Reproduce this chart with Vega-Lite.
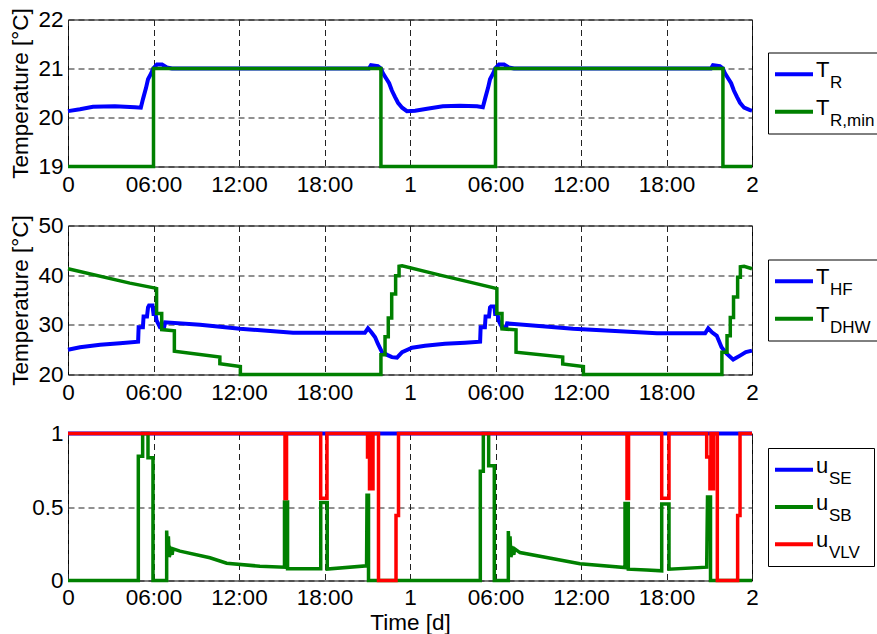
{
 "$schema": "https://vega.github.io/schema/vega-lite/v6.json",
 "padding": {"left": 3, "top": 6.5, "right": 0, "bottom": 0},
 "background": "white",
 "config": {
  "view": {"stroke": "#000000", "strokeWidth": 1},
  "font": "Liberation Sans",
  "axis": {"labelFont": "Liberation Sans", "labelFontSize": 22.5, "labelColor": "#000", "titleFont": "Liberation Sans", "titleFontSize": 22.5, "titleFontWeight": "normal", "titleColor": "#000", "grid": true, "gridColor": "#222", "gridDash": [6, 4], "gridWidth": 1, "ticks": false, "domain": false, "labelFlush": false, "labelOverlap": false, "titleLimit": 600},
  "axisX": {"labelPadding": 7, "titlePadding": 0},
  "axisY": {"labelPadding": 5, "titlePadding": 5}
 },
 "resolve": {"scale": {"color": "independent"}},
 "datasets": {
  "p1": [
   {"s":"TR","t":0,"v":20.13},{"s":"TR","t":0.035,"v":20.17},{"s":"TR","t":0.073,"v":20.22},{"s":"TR","t":0.137,"v":20.23},{"s":"TR","t":0.196,"v":20.21},{"s":"TR","t":0.213,"v":20.2},{"s":"TR","t":0.219,"v":20.37},{"s":"TR","t":0.228,"v":20.6},{"s":"TR","t":0.234,"v":20.78},{"s":"TR","t":0.243,"v":20.9},{"s":"TR","t":0.249,"v":21.0},{"s":"TR","t":0.26,"v":21.08},{"s":"TR","t":0.275,"v":21.08},{"s":"TR","t":0.289,"v":21.02},{"s":"TR","t":0.304,"v":21.0},{"s":"TR","t":0.88,"v":21.0},{"s":"TR","t":0.886,"v":21.07},{"s":"TR","t":0.906,"v":21.05},{"s":"TR","t":0.915,"v":21.0},{"s":"TR","t":0.921,"v":20.9},{"s":"TR","t":0.93,"v":20.8},{"s":"TR","t":0.939,"v":20.7},{"s":"TR","t":0.947,"v":20.55},{"s":"TR","t":0.956,"v":20.42},{"s":"TR","t":0.965,"v":20.3},{"s":"TR","t":0.977,"v":20.2},{"s":"TR","t":0.991,"v":20.13},{"s":"TR","t":1.015,"v":20.14},{"s":"TR","t":1.05,"v":20.18},{"s":"TR","t":1.096,"v":20.23},{"s":"TR","t":1.146,"v":20.24},{"s":"TR","t":1.196,"v":20.23},{"s":"TR","t":1.213,"v":20.21},{"s":"TR","t":1.219,"v":20.37},{"s":"TR","t":1.228,"v":20.6},{"s":"TR","t":1.234,"v":20.78},{"s":"TR","t":1.243,"v":20.9},{"s":"TR","t":1.249,"v":21.0},{"s":"TR","t":1.26,"v":21.08},{"s":"TR","t":1.275,"v":21.08},{"s":"TR","t":1.289,"v":21.02},{"s":"TR","t":1.304,"v":21.0},{"s":"TR","t":1.88,"v":21.0},{"s":"TR","t":1.886,"v":21.07},{"s":"TR","t":1.906,"v":21.05},{"s":"TR","t":1.915,"v":21.0},{"s":"TR","t":1.921,"v":20.9},{"s":"TR","t":1.93,"v":20.8},{"s":"TR","t":1.939,"v":20.7},{"s":"TR","t":1.947,"v":20.55},{"s":"TR","t":1.956,"v":20.42},{"s":"TR","t":1.965,"v":20.3},{"s":"TR","t":1.977,"v":20.2},{"s":"TR","t":1.994,"v":20.15},{"s":"TR","t":2.0,"v":20.14},
   {"s":"TRmin","t":0,"v":19},{"s":"TRmin","t":0.25,"v":19},{"s":"TRmin","t":0.25,"v":21},{"s":"TRmin","t":0.915,"v":21},{"s":"TRmin","t":0.915,"v":19},{"s":"TRmin","t":1.25,"v":19},{"s":"TRmin","t":1.25,"v":21},{"s":"TRmin","t":1.915,"v":21},{"s":"TRmin","t":1.915,"v":19},{"s":"TRmin","t":2,"v":19}
  ],
  "p2": [
   {"s":"THF","t":0,"v":25.0},{"s":"THF","t":0.035,"v":25.5},{"s":"THF","t":0.094,"v":26.0},{"s":"THF","t":0.152,"v":26.3},{"s":"THF","t":0.205,"v":26.6},{"s":"THF","t":0.2065,"v":29.5},{"s":"THF","t":0.219,"v":29.5},{"s":"THF","t":0.221,"v":31.7},{"s":"THF","t":0.231,"v":31.7},{"s":"THF","t":0.234,"v":33.5},{"s":"THF","t":0.237,"v":33.9},{"s":"THF","t":0.247,"v":33.9},{"s":"THF","t":0.25,"v":32.2},{"s":"THF","t":0.256,"v":32.2},{"s":"THF","t":0.259,"v":30.9},{"s":"THF","t":0.269,"v":29.5},{"s":"THF","t":0.281,"v":29.5},{"s":"THF","t":0.284,"v":30.5},{"s":"THF","t":0.386,"v":30.0},{"s":"THF","t":0.503,"v":29.2},{"s":"THF","t":0.658,"v":28.4},{"s":"THF","t":0.868,"v":28.4},{"s":"THF","t":0.877,"v":29.3},{"s":"THF","t":0.887,"v":28.5},{"s":"THF","t":0.898,"v":27.5},{"s":"THF","t":0.906,"v":26.2},{"s":"THF","t":0.918,"v":24.5},{"s":"THF","t":0.933,"v":23.95},{"s":"THF","t":0.947,"v":23.5},{"s":"THF","t":0.962,"v":23.4},{"s":"THF","t":0.977,"v":24.5},{"s":"THF","t":1.006,"v":25.4},{"s":"THF","t":1.044,"v":25.8},{"s":"THF","t":1.102,"v":26.2},{"s":"THF","t":1.161,"v":26.4},{"s":"THF","t":1.205,"v":26.6},{"s":"THF","t":1.2065,"v":29.5},{"s":"THF","t":1.219,"v":29.5},{"s":"THF","t":1.221,"v":31.7},{"s":"THF","t":1.231,"v":31.7},{"s":"THF","t":1.234,"v":33.5},{"s":"THF","t":1.237,"v":33.7},{"s":"THF","t":1.247,"v":33.7},{"s":"THF","t":1.249,"v":32.2},{"s":"THF","t":1.256,"v":32.2},{"s":"THF","t":1.259,"v":30.9},{"s":"THF","t":1.269,"v":29.5},{"s":"THF","t":1.281,"v":29.5},{"s":"THF","t":1.284,"v":30.3},{"s":"THF","t":1.477,"v":29.2},{"s":"THF","t":1.722,"v":28.3},{"s":"THF","t":1.863,"v":28.3},{"s":"THF","t":1.872,"v":29.3},{"s":"THF","t":1.883,"v":28.5},{"s":"THF","t":1.897,"v":27.8},{"s":"THF","t":1.911,"v":25.5},{"s":"THF","t":1.926,"v":24.2},{"s":"THF","t":1.945,"v":23.0},{"s":"THF","t":1.965,"v":23.8},{"s":"THF","t":1.982,"v":24.5},{"s":"THF","t":2.0,"v":24.8},
   {"s":"TDHW","t":0,"v":41.3},{"s":"TDHW","t":0.181,"v":38.4},{"s":"TDHW","t":0.255,"v":37.4},{"s":"TDHW","t":0.259,"v":37.3},{"s":"TDHW","t":0.259,"v":32.3},{"s":"TDHW","t":0.274,"v":32.3},{"s":"TDHW","t":0.274,"v":29.05},{"s":"TDHW","t":0.311,"v":28.8},{"s":"TDHW","t":0.311,"v":24.7},{"s":"TDHW","t":0.444,"v":23.5},{"s":"TDHW","t":0.444,"v":22.15},{"s":"TDHW","t":0.504,"v":21.6},{"s":"TDHW","t":0.504,"v":20.0},{"s":"TDHW","t":0.915,"v":20.0},{"s":"TDHW","t":0.915,"v":24.0},{"s":"TDHW","t":0.927,"v":24.0},{"s":"TDHW","t":0.927,"v":27.6},{"s":"TDHW","t":0.9365,"v":27.6},{"s":"TDHW","t":0.9365,"v":31.4},{"s":"TDHW","t":0.9465,"v":31.4},{"s":"TDHW","t":0.9465,"v":36.2},{"s":"TDHW","t":0.958,"v":36.2},{"s":"TDHW","t":0.958,"v":39.9},{"s":"TDHW","t":0.968,"v":39.9},{"s":"TDHW","t":0.968,"v":41.8},{"s":"TDHW","t":0.977,"v":41.9},{"s":"TDHW","t":1.088,"v":40.0},{"s":"TDHW","t":1.175,"v":38.6},{"s":"TDHW","t":1.254,"v":37.3},{"s":"TDHW","t":1.254,"v":32.3},{"s":"TDHW","t":1.269,"v":32.3},{"s":"TDHW","t":1.269,"v":29.2},{"s":"TDHW","t":1.31,"v":29.0},{"s":"TDHW","t":1.31,"v":24.5},{"s":"TDHW","t":1.4465,"v":23.5},{"s":"TDHW","t":1.4465,"v":22.1},{"s":"TDHW","t":1.507,"v":21.6},{"s":"TDHW","t":1.507,"v":20.0},{"s":"TDHW","t":1.912,"v":20.0},{"s":"TDHW","t":1.912,"v":24.5},{"s":"TDHW","t":1.927,"v":24.5},{"s":"TDHW","t":1.927,"v":27.8},{"s":"TDHW","t":1.9365,"v":27.8},{"s":"TDHW","t":1.9365,"v":31.5},{"s":"TDHW","t":1.946,"v":31.5},{"s":"TDHW","t":1.946,"v":35.6},{"s":"TDHW","t":1.958,"v":35.6},{"s":"TDHW","t":1.958,"v":39.6},{"s":"TDHW","t":1.966,"v":39.6},{"s":"TDHW","t":1.966,"v":41.7},{"s":"TDHW","t":1.977,"v":41.8},{"s":"TDHW","t":2.0,"v":41.3}
  ],
  "p3": [
   {"s":"USE","t":0,"v":1},{"s":"USE","t":2,"v":1},
   {"s":"USB","t":0,"v":0},{"s":"USB","t":0.2056,"v":0},{"s":"USB","t":0.2056,"v":0.845},{"s":"USB","t":0.2183,"v":0.845},{"s":"USB","t":0.2183,"v":1},{"s":"USB","t":0.2339,"v":1},{"s":"USB","t":0.2339,"v":0.835},{"s":"USB","t":0.2485,"v":0.835},{"s":"USB","t":0.2485,"v":0},{"s":"USB","t":0.2885,"v":0},{"s":"USB","t":0.2885,"v":0.34},{"s":"USB","t":0.291,"v":0.17},{"s":"USB","t":0.2935,"v":0.3},{"s":"USB","t":0.296,"v":0.16},{"s":"USB","t":0.301,"v":0.2},{"s":"USB","t":0.3045,"v":0.175},{"s":"USB","t":0.307,"v":0.215},{"s":"USB","t":0.3275,"v":0.2},{"s":"USB","t":0.415,"v":0.155},{"s":"USB","t":0.464,"v":0.118},{"s":"USB","t":0.561,"v":0.097},{"s":"USB","t":0.633,"v":0.09},{"s":"USB","t":0.633,"v":0.534},{"s":"USB","t":0.642,"v":0.534},{"s":"USB","t":0.642,"v":0.08},{"s":"USB","t":0.739,"v":0.08},{"s":"USB","t":0.739,"v":0.53},{"s":"USB","t":0.758,"v":0.53},{"s":"USB","t":0.758,"v":0.078},{"s":"USB","t":0.873,"v":0.1},{"s":"USB","t":0.8743,"v":0.58},{"s":"USB","t":0.8787,"v":0.58},{"s":"USB","t":0.8787,"v":0},{"s":"USB","t":1.2056,"v":0},{"s":"USB","t":1.2056,"v":0.743},{"s":"USB","t":1.2144,"v":0.743},{"s":"USB","t":1.2144,"v":1},{"s":"USB","t":1.23,"v":1},{"s":"USB","t":1.23,"v":0.78},{"s":"USB","t":1.2465,"v":0.78},{"s":"USB","t":1.2465,"v":0},{"s":"USB","t":1.2875,"v":0},{"s":"USB","t":1.2875,"v":0.336},{"s":"USB","t":1.29,"v":0.17},{"s":"USB","t":1.2925,"v":0.3},{"s":"USB","t":1.295,"v":0.16},{"s":"USB","t":1.3,"v":0.2},{"s":"USB","t":1.3035,"v":0.175},{"s":"USB","t":1.306,"v":0.215},{"s":"USB","t":1.3216,"v":0.19},{"s":"USB","t":1.4971,"v":0.114},{"s":"USB","t":1.6287,"v":0.088},{"s":"USB","t":1.6287,"v":0.523},{"s":"USB","t":1.6383,"v":0.523},{"s":"USB","t":1.6383,"v":0.077},{"s":"USB","t":1.692,"v":0.072},{"s":"USB","t":1.736,"v":0.066},{"s":"USB","t":1.736,"v":0.52},{"s":"USB","t":1.7573,"v":0.52},{"s":"USB","t":1.7573,"v":0.077},{"s":"USB","t":1.8675,"v":0.091},{"s":"USB","t":1.8699,"v":0.568},{"s":"USB","t":1.8787,"v":0.568},{"s":"USB","t":1.8787,"v":0},{"s":"USB","t":2,"v":0},
   {"s":"UVLV","t":0,"v":1},{"s":"UVLV","t":0.6345,"v":1},{"s":"UVLV","t":0.6345,"v":0.557},{"s":"UVLV","t":0.639,"v":0.557},{"s":"UVLV","t":0.639,"v":1},{"s":"UVLV","t":0.7389,"v":1},{"s":"UVLV","t":0.7389,"v":0.56},{"s":"UVLV","t":0.7573,"v":0.56},{"s":"UVLV","t":0.7573,"v":1},{"s":"UVLV","t":0.8758,"v":1},{"s":"UVLV","t":0.8758,"v":0.84},{"s":"UVLV","t":0.8816,"v":0.84},{"s":"UVLV","t":0.8816,"v":0.625},{"s":"UVLV","t":0.8845,"v":0.625},{"s":"UVLV","t":0.8845,"v":1},{"s":"UVLV","t":0.8874,"v":1},{"s":"UVLV","t":0.8874,"v":0.625},{"s":"UVLV","t":0.8918,"v":0.625},{"s":"UVLV","t":0.8918,"v":1},{"s":"UVLV","t":0.9079,"v":1},{"s":"UVLV","t":0.9079,"v":0},{"s":"UVLV","t":0.9591,"v":0},{"s":"UVLV","t":0.9591,"v":0.443},{"s":"UVLV","t":0.9664,"v":0.443},{"s":"UVLV","t":0.9664,"v":1},{"s":"UVLV","t":1.6345,"v":1},{"s":"UVLV","t":1.6345,"v":0.557},{"s":"UVLV","t":1.639,"v":0.557},{"s":"UVLV","t":1.639,"v":1},{"s":"UVLV","t":1.736,"v":1},{"s":"UVLV","t":1.736,"v":0.56},{"s":"UVLV","t":1.7573,"v":0.56},{"s":"UVLV","t":1.7573,"v":1},{"s":"UVLV","t":1.8675,"v":1},{"s":"UVLV","t":1.8675,"v":0.84},{"s":"UVLV","t":1.877,"v":0.84},{"s":"UVLV","t":1.877,"v":0.625},{"s":"UVLV","t":1.88,"v":0.625},{"s":"UVLV","t":1.88,"v":1},{"s":"UVLV","t":1.883,"v":1},{"s":"UVLV","t":1.883,"v":0.625},{"s":"UVLV","t":1.8875,"v":0.625},{"s":"UVLV","t":1.8875,"v":1},{"s":"UVLV","t":1.8986,"v":1},{"s":"UVLV","t":1.8986,"v":0},{"s":"UVLV","t":1.958,"v":0},{"s":"UVLV","t":1.958,"v":0.443},{"s":"UVLV","t":1.965,"v":0.443},{"s":"UVLV","t":1.965,"v":1},{"s":"UVLV","t":2,"v":1}
  ]
 },
 "vconcat": [
  {
   "hconcat": [
    {
     "width": 684, "height": 147,
     "data": {"name": "p1"},
     "encoding": {
      "x": {"field": "t", "type": "quantitative", "scale": {"domain": [0, 2], "nice": false, "zero": false}, "axis": {"title": null, "values": [0, 0.25, 0.5, 0.75, 1, 1.25, 1.5, 1.75, 2], "labelExpr": "datum.value % 1 == 0 ? format(datum.value, 'd') : (datum.value % 1 == 0.25 ? '06:00' : (datum.value % 1 == 0.5 ? '12:00' : '18:00'))"}},
      "y": {"field": "v", "type": "quantitative", "scale": {"domain": [19, 22], "nice": false, "zero": false}, "axis": {"title": "Temperature [°C]", "values": [19, 20, 21, 22], "format": "d"}},
      "order": {"value": null}
     },
     "layer": [
      {"transform": [{"filter": "datum.s == 'TR'"}], "mark": {"type": "line", "color": "#0000ff", "strokeWidth": 4, "strokeJoin": "miter"}},
      {"transform": [{"filter": "datum.s == 'TRmin'"}], "mark": {"type": "line", "color": "#008000", "strokeWidth": 3.5, "strokeJoin": "miter"}}
     ]
    },
    {
     "width": 130, "height": 81,
     "data": {"values": [{"k": "TR", "m": "T", "sub": "R"}, {"k": "TRmin", "m": "T", "sub": "R,min"}]},
     "encoding": {"y": {"field": "k", "type": "nominal", "scale": {"type": "point", "domain": ["TR", "TRmin"], "padding": 0.58}, "axis": null}},
     "layer": [
      {"mark": {"type": "rule", "strokeWidth": 4}, "encoding": {"x": {"datum": 7, "type": "quantitative", "scale": {"domain": [0, 130], "nice": false, "zero": false}, "axis": null}, "x2": {"datum": 45}, "color": {"field": "k", "type": "nominal", "scale": {"domain": ["TR", "TRmin"], "range": ["#0000ff", "#008000"]}, "legend": null}}},
      {"mark": {"type": "text", "align": "left", "baseline": "alphabetic", "dy": 3, "fontSize": 22, "font": "Liberation Sans", "color": "#000"}, "encoding": {"x": {"datum": 48, "type": "quantitative"}, "text": {"field": "m"}}},
      {"mark": {"type": "text", "align": "left", "baseline": "alphabetic", "dx": 14, "dy": 14, "fontSize": 17, "font": "Liberation Sans", "color": "#000"}, "encoding": {"x": {"datum": 48, "type": "quantitative"}, "text": {"field": "sub"}}}
     ]
    }
   ],
   "spacing": 16, "bounds": "flush", "center": true,
   "resolve": {"scale": {"color": "independent"}}
  },
  {
   "hconcat": [
    {
     "width": 684, "height": 149,
     "data": {"name": "p2"},
     "encoding": {
      "x": {"field": "t", "type": "quantitative", "scale": {"domain": [0, 2], "nice": false, "zero": false}, "axis": {"title": null, "values": [0, 0.25, 0.5, 0.75, 1, 1.25, 1.5, 1.75, 2], "labelExpr": "datum.value % 1 == 0 ? format(datum.value, 'd') : (datum.value % 1 == 0.25 ? '06:00' : (datum.value % 1 == 0.5 ? '12:00' : '18:00'))"}},
      "y": {"field": "v", "type": "quantitative", "scale": {"domain": [20, 50], "nice": false, "zero": false}, "axis": {"title": "Temperature [°C]", "values": [20, 30, 40, 50], "format": "d"}},
      "order": {"value": null}
     },
     "layer": [
      {"transform": [{"filter": "datum.s == 'THF'"}], "mark": {"type": "line", "color": "#0000ff", "strokeWidth": 4, "strokeJoin": "miter"}},
      {"transform": [{"filter": "datum.s == 'TDHW'"}], "mark": {"type": "line", "color": "#008000", "strokeWidth": 3.5, "strokeJoin": "miter"}}
     ]
    },
    {
     "width": 125, "height": 81,
     "data": {"values": [{"k": "THF", "m": "T", "sub": "HF"}, {"k": "TDHW", "m": "T", "sub": "DHW"}]},
     "encoding": {"y": {"field": "k", "type": "nominal", "scale": {"type": "point", "domain": ["THF", "TDHW"], "padding": 0.58}, "axis": null}},
     "layer": [
      {"mark": {"type": "rule", "strokeWidth": 4}, "encoding": {"x": {"datum": 7, "type": "quantitative", "scale": {"domain": [0, 125], "nice": false, "zero": false}, "axis": null}, "x2": {"datum": 45}, "color": {"field": "k", "type": "nominal", "scale": {"domain": ["THF", "TDHW"], "range": ["#0000ff", "#008000"]}, "legend": null}}},
      {"mark": {"type": "text", "align": "left", "baseline": "alphabetic", "dy": 3, "fontSize": 22, "font": "Liberation Sans", "color": "#000"}, "encoding": {"x": {"datum": 48, "type": "quantitative"}, "text": {"field": "m"}}},
      {"mark": {"type": "text", "align": "left", "baseline": "alphabetic", "dx": 14, "dy": 14, "fontSize": 17, "font": "Liberation Sans", "color": "#000"}, "encoding": {"x": {"datum": 48, "type": "quantitative"}, "text": {"field": "sub"}}}
     ]
    }
   ],
   "spacing": 16, "bounds": "flush", "center": true,
   "resolve": {"scale": {"color": "independent"}}
  },
  {
   "hconcat": [
    {
     "width": 684, "height": 147,
     "data": {"name": "p3"},
     "encoding": {
      "x": {"field": "t", "type": "quantitative", "scale": {"domain": [0, 2], "nice": false, "zero": false}, "axis": {"title": "Time [d]", "labelPadding": 6, "titlePadding": 2, "values": [0, 0.25, 0.5, 0.75, 1, 1.25, 1.5, 1.75, 2], "labelExpr": "datum.value % 1 == 0 ? format(datum.value, 'd') : (datum.value % 1 == 0.25 ? '06:00' : (datum.value % 1 == 0.5 ? '12:00' : '18:00'))"}},
      "y": {"field": "v", "type": "quantitative", "scale": {"domain": [0, 1], "nice": false, "zero": false}, "axis": {"title": " ", "values": [0, 0.5, 1], "labelExpr": "'' + datum.value"}},
      "order": {"value": null}
     },
     "layer": [
      {"transform": [{"filter": "datum.s == 'USE'"}], "mark": {"type": "line", "color": "#0000ff", "strokeWidth": 4, "strokeJoin": "miter"}},
      {"transform": [{"filter": "datum.s == 'USB'"}], "mark": {"type": "line", "color": "#008000", "strokeWidth": 3.5, "strokeJoin": "miter"}},
      {"transform": [{"filter": "datum.s == 'UVLV'"}], "mark": {"type": "line", "color": "#ff0000", "strokeWidth": 3.5, "strokeJoin": "miter"}}
     ]
    },
    {
     "width": 106, "height": 118,
     "data": {"values": [{"k": "USE", "m": "u", "sub": "SE"}, {"k": "USB", "m": "u", "sub": "SB"}, {"k": "UVLV", "m": "u", "sub": "VLV"}]},
     "encoding": {"y": {"field": "k", "type": "nominal", "scale": {"type": "point", "domain": ["USE", "USB", "UVLV"], "padding": 0.58}, "axis": null}},
     "layer": [
      {"mark": {"type": "rule", "strokeWidth": 4}, "encoding": {"x": {"datum": 7, "type": "quantitative", "scale": {"domain": [0, 106], "nice": false, "zero": false}, "axis": null}, "x2": {"datum": 45}, "color": {"field": "k", "type": "nominal", "scale": {"domain": ["USE", "USB", "UVLV"], "range": ["#0000ff", "#008000", "#ff0000"]}, "legend": null}}},
      {"mark": {"type": "text", "align": "left", "baseline": "alphabetic", "dy": 3, "fontSize": 22, "font": "Liberation Sans", "color": "#000"}, "encoding": {"x": {"datum": 48, "type": "quantitative"}, "text": {"field": "m"}}},
      {"mark": {"type": "text", "align": "left", "baseline": "alphabetic", "dx": 13, "dy": 14, "fontSize": 17, "font": "Liberation Sans", "color": "#000"}, "encoding": {"x": {"datum": 48, "type": "quantitative"}, "text": {"field": "sub"}}}
     ]
    }
   ],
   "spacing": 16, "bounds": "flush", "center": true,
   "resolve": {"scale": {"color": "independent"}}
  }
 ],
 "spacing": 17
}
